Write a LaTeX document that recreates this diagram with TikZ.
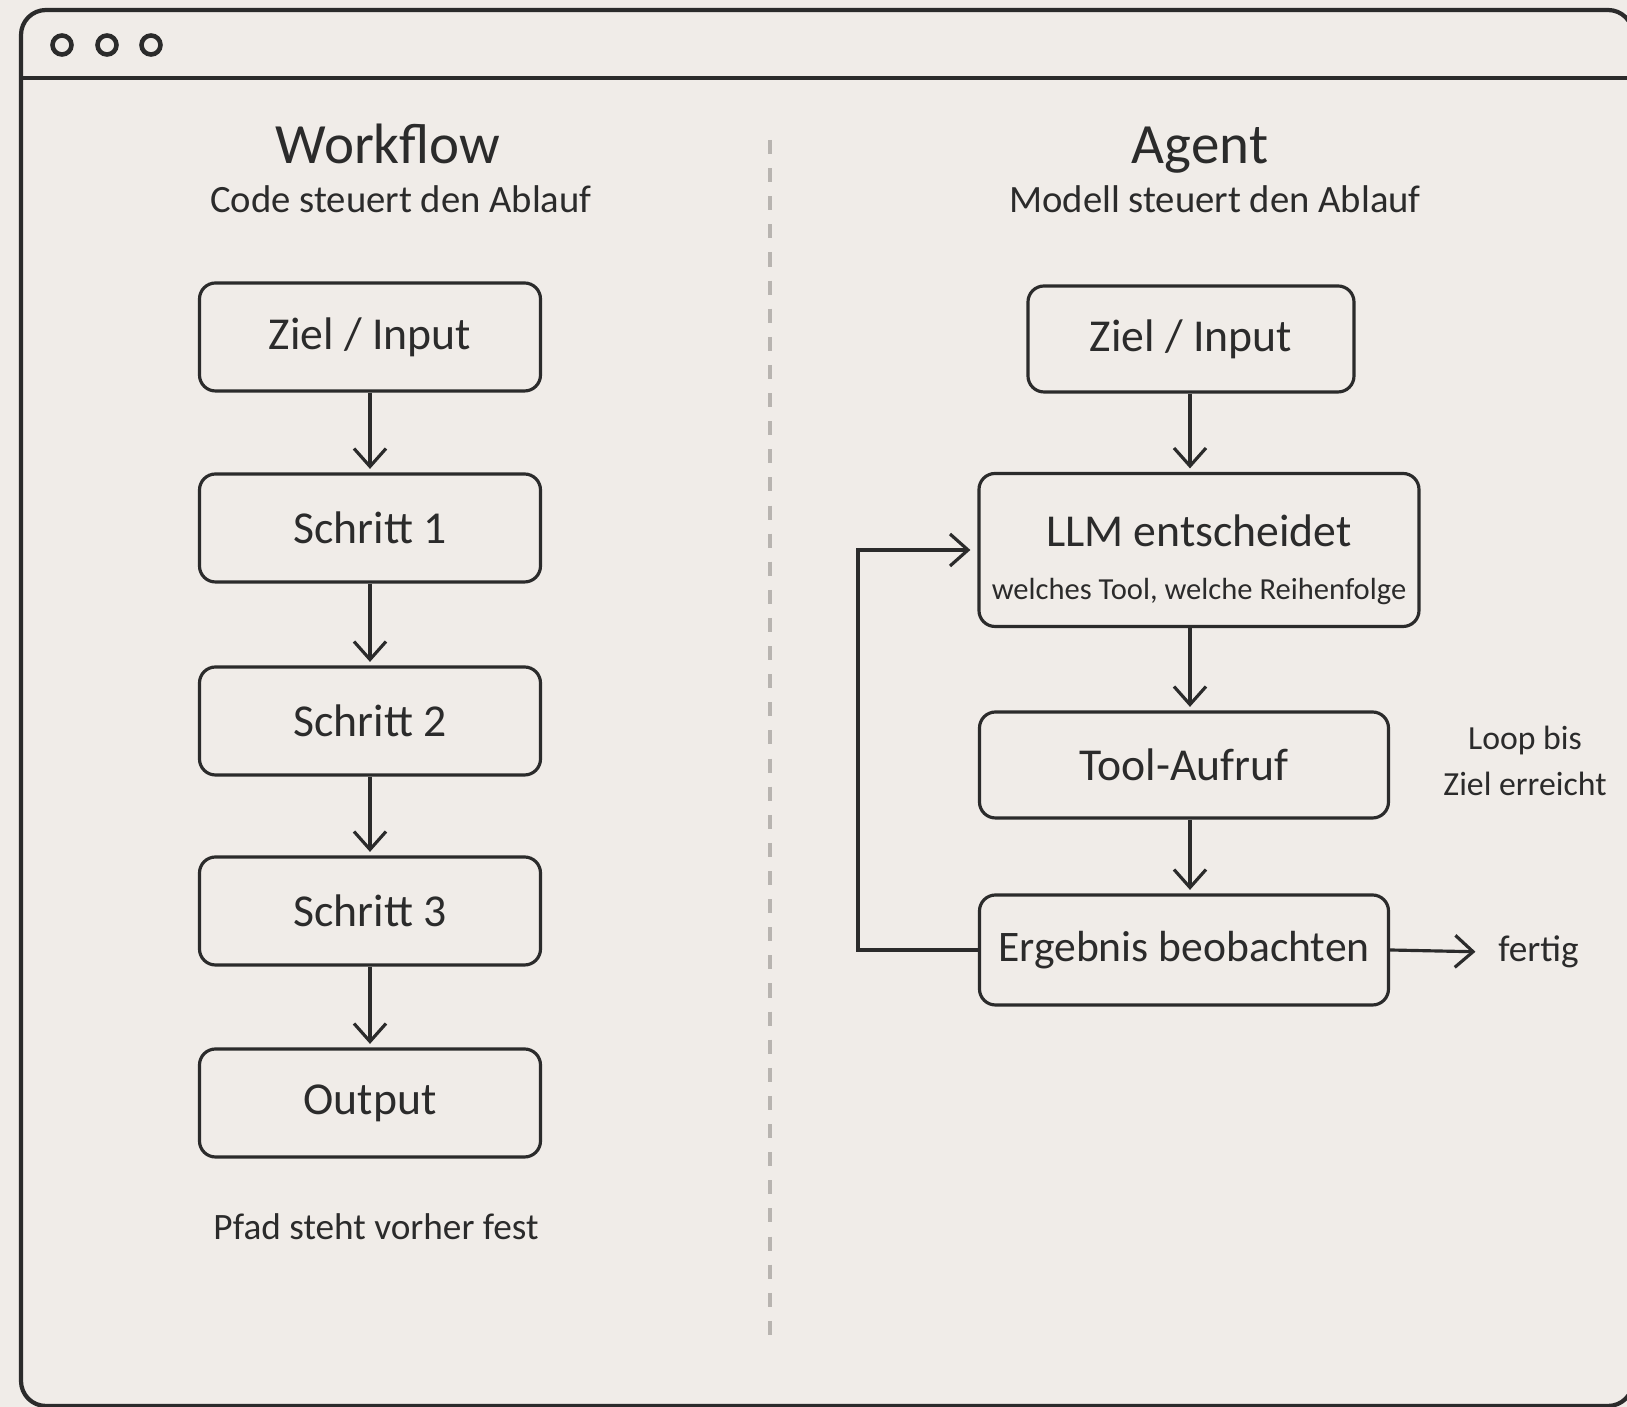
\documentclass[tikz,border=0pt]{standalone}
\usepackage{fontspec}
\setmainfont{Carlito}
\usepackage{xcolor}
\usetikzlibrary{arrows.meta}

\definecolor{paper}{HTML}{F0ECE8}
\definecolor{ink}{HTML}{2B2B2B}
\definecolor{divider}{HTML}{B8B4B0}

\begin{document}
\begin{tikzpicture}[
        box/.style = {draw=ink, line width=0.9pt, rounded corners=1.6mm,
            minimum width=3.41cm, minimum height=1.08cm, inner xsep=2pt, text=ink,
            font=\fontsize{13}{15}\selectfont},
        arr/.style = {draw=ink, line width=0.9pt, shorten >=1pt,
            -{Straight Barb[length=1.8mm,width=3.2mm]}},
        title/.style = {anchor=base, text=ink, font=\fontsize{16.2}{20}\selectfont},
        subtitle/.style = {anchor=base, text=ink, font=\fontsize{11}{13}\selectfont},
        note/.style = {text=ink, align=center, font=\fontsize{10}{13}\selectfont}
    ]
        % paper and window frame
        \fill[paper] (0,0) rectangle (16.27,-14.07);
        \useasboundingbox (0,0) rectangle (16.27,-14.07);
        \clip (0,0) rectangle (16.27,-14.07);
        \draw[ink, line width=1.2pt, rounded corners=2.5mm] (0.21,-0.10) rectangle (16.33,-14.06);
        \draw[ink, line width=1.1pt] (0.21,-0.78) -- (16.33,-0.78);
        \foreach \x in {0.62,1.07,1.51}
            \draw[ink, line width=1.3pt] (\x,-0.45) circle (0.095);

        % divider
        \draw[divider, line width=0.9pt, dash pattern=on 4pt off 4pt] (7.70,-1.40) -- (7.70,-13.44);

        % workflow column
        \node[title] (wftitle) at (3.88,-1.64) {Workflow};
        \node[subtitle] (wfsub) at (4.01,-2.13) {Code steuert den Ablauf};

        \node[box] (wfgoal) at (3.70,-3.37) {Ziel / Input};
        \node[box] (step1) at (3.70,-5.28) {Schritt 1};
        \node[box] (step2) at (3.70,-7.21) {Schritt 2};
        \node[box] (step3) at (3.70,-9.11) {Schritt 3};
        \node[box] (output) at (3.70,-11.03) {Output};

        \draw[arr] (wfgoal) -- (step1);
        \draw[arr] (step1) -- (step2);
        \draw[arr] (step2) -- (step3);
        \draw[arr] (step3) -- (output);

        \node[note, font=\fontsize{10.6}{13}\selectfont] (fixed) at (3.76,-12.27) {Pfad steht vorher fest};

        % agent column
        \node[title] (agtitle) at (12.00,-1.64) {Agent};
        \node[subtitle] (agsub) at (12.15,-2.13) {Modell steuert den Ablauf};

        \node[box, minimum width=3.26cm, minimum height=1.06cm] (aggoal) at (11.91,-3.39) {Ziel / Input};
        \node[box, minimum width=4.40cm, minimum height=1.53cm, align=center] (llm) at (11.99,-5.50)
            {\rule{0pt}{14.5pt}LLM entscheidet\\[0pt]{\fontsize{8.7}{11}\selectfont welches Tool, welche Reihenfolge}};
        \node[box, minimum width=4.09cm, minimum height=1.06cm] (tool) at (11.84,-7.65) {Tool-Aufruf};
        \node[box, minimum width=4.09cm, minimum height=1.10cm, font=\fontsize{12.4}{15}\selectfont] (result) at (11.84,-9.50) {Ergebnis beobachten};

        \draw[arr] (aggoal.south -| 11.90,0) -- (llm.north -| 11.90,0);
        \draw[arr] (llm.south -| 11.90,0) -- (tool.north -| 11.90,0);
        \draw[arr] (tool.south -| 11.90,0) -- (result.north -| 11.90,0);

        % loop back and exit
        \draw[arr, shorten >=2pt] (result.west) -- ++(-1.20,0) |- (llm.west);
        \node[note, anchor=west, font=\fontsize{10.6}{13}\selectfont] (done) at (14.86,-9.52) {fertig};
        \draw[arr, shorten >=3pt] (result.east) -- (done.west);
        \node[note, font=\fontsize{9.6}{13}\selectfont] (loop) at (15.25,-7.61) {Loop bis\\Ziel erreicht};
    \end{tikzpicture}
\end{document}
